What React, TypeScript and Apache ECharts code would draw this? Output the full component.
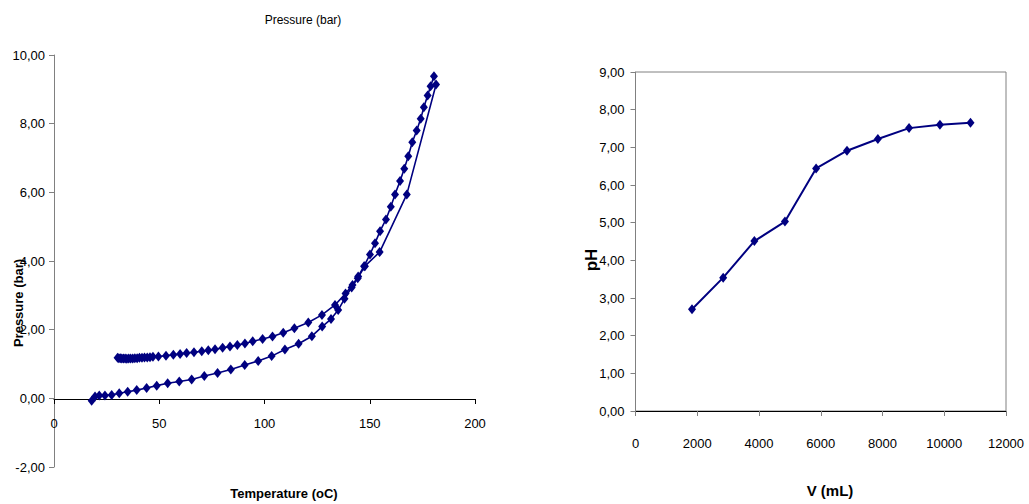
import React, { useEffect, useRef } from "react";
import * as echarts from "echarts";

// Left chart: two temperature / pressure runs
const heatTemp = [17.9, 19.5, 21.5, 24.2, 27.4, 31, 35, 39.3, 44, 48.8, 54, 59.5, 65.4, 71.4, 77.7, 84, 90.6, 97, 103.4, 109.7, 116.2, 122.5, 127.4, 131.6, 135, 138, 141.4, 144.3, 147.7, 154.7, 167.6, 181.5];
const heatPres = [-0.07, 0.05, 0.08, 0.08, 0.1, 0.15, 0.19, 0.24, 0.3, 0.37, 0.44, 0.49, 0.55, 0.65, 0.74, 0.84, 0.97, 1.09, 1.23, 1.42, 1.59, 1.81, 2.09, 2.31, 2.57, 2.9, 3.23, 3.5, 3.85, 4.26, 5.94, 9.14];
const coolTemp = [30.2, 30.8, 31.5, 32.2, 33, 33.8, 34.6, 35.5, 36.4, 37.4, 38.4, 39.5, 40.6, 41.8, 43, 44.3, 45.6, 47, 49.6, 53.2, 56.7, 59.9, 63, 66.5, 70.2, 73.3, 76.5, 80.1, 83.6, 87.1, 90.7, 94.4, 99.1, 103.8, 108.9, 114.2, 120.8, 127.3, 133.5, 138.5, 141.8, 144.5, 147.3, 150.1, 152.5, 154.9, 157.7, 160, 162, 164.4, 166.4, 168.3, 170.2, 172.3, 174.2, 175.7, 177.5, 178.9, 180.5];
const coolPres = [1.18, 1.17, 1.17, 1.16, 1.16, 1.16, 1.15, 1.16, 1.16, 1.16, 1.17, 1.17, 1.18, 1.18, 1.19, 1.19, 1.2, 1.21, 1.22, 1.24, 1.27, 1.29, 1.32, 1.34, 1.37, 1.4, 1.43, 1.47, 1.51, 1.55, 1.6, 1.66, 1.73, 1.8, 1.91, 2.04, 2.21, 2.43, 2.72, 3.05, 3.3, 3.55, 3.85, 4.19, 4.52, 4.87, 5.21, 5.58, 5.94, 6.33, 6.69, 7.05, 7.46, 7.8, 8.14, 8.48, 8.82, 9.09, 9.38];

// Right chart: pH vs volume
const volume = [1830, 2840, 3850, 4840, 5850, 6850, 7850, 8860, 9860, 10850];
const ph = [2.7, 3.54, 4.51, 5.03, 6.44, 6.91, 7.22, 7.51, 7.6, 7.65];

const NAVY = "#000080";
const SANS = "'Liberation Sans', Arial, sans-serif";

const zip = (xs: number[], ys: number[]) => xs.map((x, i) => [x, ys[i]]);
const comma = (v: number) => v.toFixed(2).replace(".", ",");
const plain = (v: number) => String(v);

export default function App() {
  const ref = useRef<HTMLDivElement>(null);
  useEffect(() => {
    document.body.style.margin = "0";
    const chart = echarts.init(ref.current!, undefined, { renderer: "svg" });
    const seriesStyle = {
      type: "line" as const,
      symbol: "diamond",
      symbolSize: [8, 10],
      lineStyle: { color: NAVY, width: 1.6 },
      itemStyle: { color: NAVY },
      silent: true,
    };
    chart.setOption({
      animation: false,
      backgroundColor: "#ffffff",
      grid: [
        { left: 54, right: 554, top: 55, bottom: 37, show: false },
        { left: 54, right: 554, top: 55, bottom: 105, show: false },
        { left: 635.5, right: 23, top: 72, bottom: 93, show: true, borderColor: "#808080", borderWidth: 1, backgroundColor: "transparent" },
      ],
      xAxis: [
        { gridIndex: 0, type: "value", min: 0, max: 200, interval: 50, show: false },
        {
          gridIndex: 1, type: "value", min: 0, max: 200, interval: 50,
          axisLine: { onZero: false, lineStyle: { color: "#000", width: 1 } },
          axisTick: { show: true, length: 5, lineStyle: { color: "#000" } },
          axisLabel: { margin: 18, color: "#000", fontSize: 13, fontFamily: SANS, formatter: plain },
          splitLine: { show: false },
        },
        {
          gridIndex: 2, type: "value", min: 0, max: 12000, interval: 2000,
          axisLine: { onZero: false, lineStyle: { color: "#000", width: 1 } },
          axisTick: { show: true, length: 5, lineStyle: { color: "#808080" } },
          axisLabel: { margin: 26, color: "#000", fontSize: 13, fontFamily: SANS, formatter: plain },
          splitLine: { show: false },
        },
      ],
      yAxis: [
        {
          gridIndex: 0, type: "value", min: -2, max: 10, interval: 2,
          axisLine: { show: true, onZero: false, lineStyle: { color: "#808080", width: 1 } },
          axisTick: { show: true, length: 5, lineStyle: { color: "#808080" } },
          axisLabel: { margin: 9, color: "#000", fontSize: 13, fontFamily: SANS, formatter: comma },
          splitLine: { show: false },
        },
        { gridIndex: 1, type: "value", min: 0, max: 10, show: false },
        {
          gridIndex: 2, type: "value", min: 0, max: 9, interval: 1,
          axisLine: { show: true, onZero: false, lineStyle: { color: "#808080", width: 1 } },
          axisTick: { show: true, length: 5, lineStyle: { color: "#808080" } },
          axisLabel: { margin: 11, color: "#000", fontSize: 13, fontFamily: SANS, formatter: comma },
          splitLine: { show: false },
        },
      ],
      series: [
        { ...seriesStyle, name: "run 1", xAxisIndex: 0, yAxisIndex: 0, data: zip(heatTemp, heatPres) },
        { ...seriesStyle, name: "run 2", xAxisIndex: 0, yAxisIndex: 0, data: zip(coolTemp, coolPres) },
        { ...seriesStyle, name: "pH", xAxisIndex: 2, yAxisIndex: 2, lineStyle: { color: NAVY, width: 2 }, data: zip(volume, ph) },
      ],
      graphic: [
        { type: "text", x: 303, y: 20, style: { text: "Pressure (bar)", fontSize: 12, fontFamily: SANS, fill: "#000", align: "center", verticalAlign: "middle" } },
        { type: "text", x: 18, y: 303, rotation: Math.PI / 2, style: { text: "Pressure (bar)", fontSize: 13, fontWeight: "bold", fontFamily: SANS, fill: "#000", align: "center", verticalAlign: "middle" } },
        { type: "text", x: 284, y: 493, style: { text: "Temperature (oC)", fontSize: 13, fontWeight: "bold", fontFamily: SANS, fill: "#000", align: "center", verticalAlign: "middle" } },
        { type: "text", x: 830, y: 490, style: { text: "V (mL)", fontSize: 15, fontWeight: "bold", fontFamily: SANS, fill: "#000", align: "center", verticalAlign: "middle" } },
        { type: "text", x: 591, y: 260, rotation: Math.PI / 2, style: { text: "pH", fontSize: 17, fontWeight: "bold", fontFamily: SANS, fill: "#000", align: "center", verticalAlign: "middle" } },
      ],
    });
    return () => chart.dispose();
  }, []);
  return <div ref={ref} style={{ width: 1029, height: 504 }} />;
}
